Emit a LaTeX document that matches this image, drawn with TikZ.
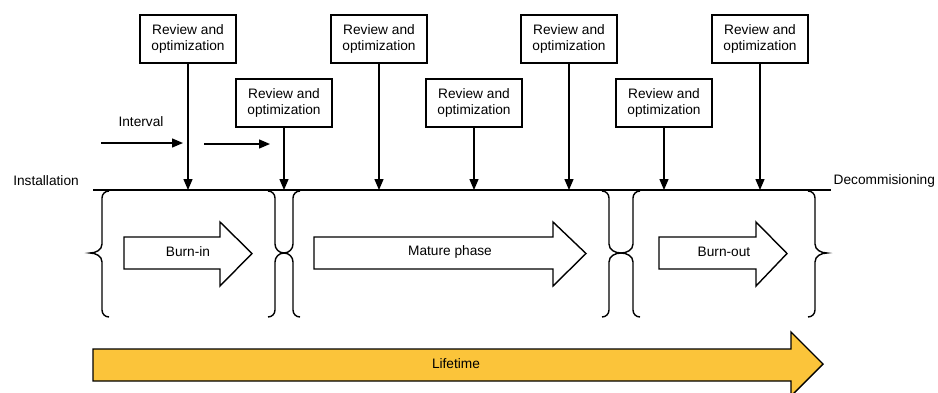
\documentclass[tikz,border=0pt]{standalone}
\usepackage{fontspec}
\setmainfont{Liberation Sans}
\usetikzlibrary{arrows.meta}
\definecolor{lifeyellow}{HTML}{FBC43A}
\begin{document}
\begin{tikzpicture}[x=1pt, y=-1pt,
  font=\fontsize{13.7}{16.5}\selectfont,
  line width=1.4pt,
  revbox/.style={draw, rectangle, minimum width=96pt, minimum height=48pt,
    align=center, inner sep=2pt},
  tick/.style={-{Triangle[length=11pt, width=9pt]}},
  lbl/.style={inner sep=0pt},
  phasearrow/.style={draw, fill=white, line join=miter},
  bracepath/.style={line width=1.4pt}
]
\useasboundingbox (0,0) rectangle (938,392);

% timeline
\coordinate (tl0) at (93,190);
\coordinate (tl1) at (831,190);
\draw (tl0) -- (tl1);
\node[lbl] (inst) at (46,181) {Installation};
\node[lbl, anchor=west] (decom) at (833,181) {Decommisioning};

% review points
\node[revbox] (r1) at (188,39)  {Review and\\optimization};
\node[revbox] (r2) at (284,103) {Review and\\optimization};
\node[revbox] (r3) at (379,39)  {Review and\\optimization};
\node[revbox] (r4) at (474,103) {Review and\\optimization};
\node[revbox] (r5) at (569,39)  {Review and\\optimization};
\node[revbox] (r6) at (664,103) {Review and\\optimization};
\node[revbox] (r7) at (760,39)  {Review and\\optimization};
\foreach \i in {1,...,7}
  \draw[tick] (r\i.south) -- (r\i.south |- tl0);

% interval
\node[lbl] (intv) at (141,122) {Interval};
\coordinate (ia0) at (101,143);
\coordinate (ia1) at (183,143);
\coordinate (ib0) at (204,144);
\coordinate (ib1) at (270,144);
\draw[tick] (ia0) -- (ia1);
\draw[tick] (ib0) -- (ib1);

% braces: first argument = vertical line, second = tip position
\newcommand{\openbrace}[2]{%
  \draw[bracepath] (#1+7,191) to[out=180,in=90] (#1,198) -- (#1,244)
    to[out=270,in=0] (#2,253) to[out=0,in=90] (#1,262) -- (#1,310)
    to[out=270,in=180] (#1+7,317);}
\newcommand{\closebrace}[2]{%
  \draw[bracepath] (#1-7,191) to[out=0,in=90] (#1,198) -- (#1,244)
    to[out=270,in=180] (#2,253) to[out=180,in=90] (#1,262) -- (#1,310)
    to[out=270,in=0] (#1-7,317);}
\openbrace{102}{90}
\closebrace{275}{284}
\openbrace{293}{284}
\closebrace{609}{621}
\openbrace{633}{621}
\closebrace{815}{827}

% phase arrows
\draw[phasearrow] (124,237) -- (220,237) -- (220,222) -- (252,253.5)
  -- (220,286) -- (220,269) -- (124,269) -- cycle;
\node[lbl] (burnin) at (188,252) {Burn-in};
\draw[phasearrow] (314,237) -- (553,237) -- (553,222) -- (586,253.5)
  -- (553,286) -- (553,269) -- (314,269) -- cycle;
\node[lbl] (mature) at (450,252) {Mature phase};
\draw[phasearrow] (659,237) -- (756,237) -- (756,222) -- (787,253.5)
  -- (756,286) -- (756,269) -- (659,269) -- cycle;
\node[lbl] (burnout) at (724,252) {Burn-out};

% lifetime arrow
\draw[fill=lifeyellow, line join=miter] (93,349) -- (791,349) -- (791,332)
  -- (823,364) -- (791,396) -- (791,381) -- (93,381) -- cycle;
\node[lbl] (life) at (456,364) {Lifetime};
\end{tikzpicture}
\end{document}
